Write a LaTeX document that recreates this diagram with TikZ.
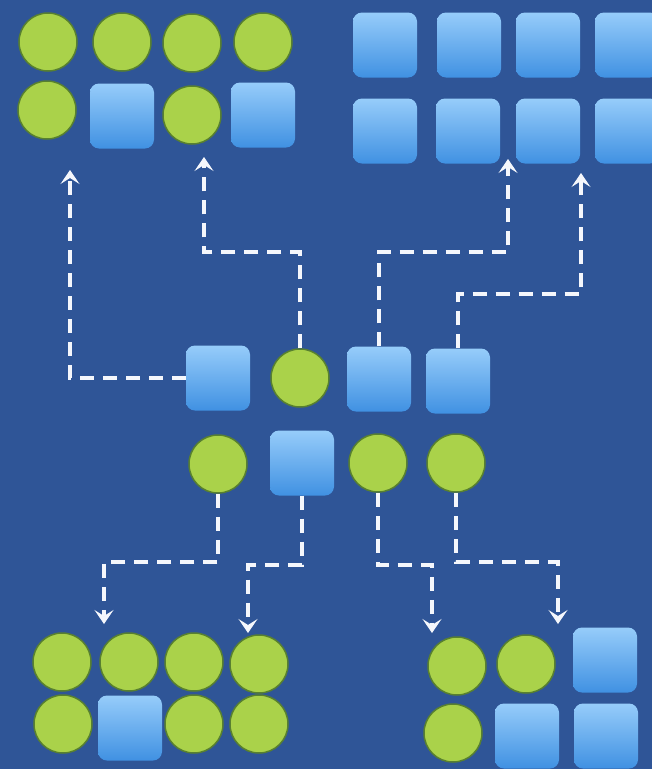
\documentclass[tikz,border=0pt]{standalone}
\usetikzlibrary{arrows.meta}
\definecolor{bgblue}{RGB}{47,85,151}
\definecolor{gfill}{RGB}{170,210,74}
\definecolor{gline}{RGB}{88,128,48}
\definecolor{sqtop}{RGB}{150,204,250}
\definecolor{sqbot}{RGB}{64,145,226}
\definecolor{lnwhite}{RGB}{245,247,252}
\tikzset{
  gc/.style={circle,fill=gfill,draw=gline,line width=1.5pt,minimum size=58pt,inner sep=0pt},
  bs/.style={rectangle,rounded corners=9pt,top color=sqtop,bottom color=sqbot,draw=none,minimum width=64pt,minimum height=65pt,inner sep=0pt},
  conn/.style={draw=lnwhite,line width=4pt,dash pattern=on 14pt off 9pt,-{Stealth[length=14pt,width=19pt,inset=6pt,line width=1pt]}},
}
\begin{document}
\begin{tikzpicture}[x=1pt,y=-1pt]
\useasboundingbox (0,0) rectangle (652,769);
\fill[bgblue] (0,0) rectangle (652,769);
\clip (0,0) rectangle (652,769);
% top-left group
\node[gc] (tl1) at (48,42) {};
\node[gc] (tl2) at (122,42) {};
\node[gc] (tl3) at (192,43) {};
\node[gc] (tl4) at (263,42) {};
\node[gc] (tl5) at (47,110) {};
\node[bs] (tl6) at (122,116) {};
\node[gc] (tl7) at (192,115) {};
\node[bs] (tl8) at (263,115) {};
% top-right group
\node[bs] (tr1) at (385,45) {};
\node[bs] (tr2) at (469,45) {};
\node[bs] (tr3) at (548,45) {};
\node[bs] (tr4) at (627,45) {};
\node[bs] (tr5) at (385,131) {};
\node[bs] (tr6) at (468,131) {};
\node[bs] (tr7) at (548,131) {};
\node[bs] (tr8) at (627,131) {};
% middle row 1
\node[bs] (m1) at (218,378) {};
\node[gc] (m2) at (300,378) {};
\node[bs] (m3) at (379,379) {};
\node[bs] (m4) at (458,381) {};
% middle row 2
\node[gc] (n1) at (218,464) {};
\node[bs] (n2) at (302,463) {};
\node[gc] (n3) at (378,463) {};
\node[gc] (n4) at (456,463) {};
% bottom-left group
\node[gc] (bl1) at (62,662) {};
\node[gc] (bl2) at (129,662) {};
\node[gc] (bl3) at (194,662) {};
\node[gc] (bl4) at (259,664) {};
\node[gc] (bl5) at (63,724) {};
\node[bs] (bl6) at (130,728) {};
\node[gc] (bl7) at (194,724) {};
\node[gc] (bl8) at (259,724) {};
% bottom-right group
\node[gc] (br1) at (457,666) {};
\node[gc] (br2) at (526,664) {};
\node[bs] (br3) at (605,660) {};
\node[gc] (br4) at (453,733) {};
\node[bs] (br5) at (527,736) {};
\node[bs] (br6) at (606,736) {};
% bend and tip coordinates
\coordinate (t1) at (70,170);
\coordinate (b2) at (204,252);
\coordinate (t2) at (204,157);
\coordinate (b3) at (508,252);
\coordinate (t3) at (508,159);
\coordinate (b4) at (581,294);
\coordinate (t4) at (581,173);
\coordinate (b5) at (104,562);
\coordinate (t5) at (104,624);
\coordinate (b6) at (248,565);
\coordinate (t6) at (248,633);
\coordinate (b7) at (432,565);
\coordinate (t7) at (432,633);
\coordinate (b8) at (558,562);
\coordinate (t8) at (558,624);
% connectors
\draw[conn] (m1.west) -| (t1);
\draw[conn] (m2.north) |- (b2) -- (t2);
\draw[conn] (m3.north) |- (b3) -- (t3);
\draw[conn] (m4.north) |- (b4) -- (t4);
\draw[conn] (n1.south) |- (b5) -- (t5);
\draw[conn] (n2.south) |- (b6) -- (t6);
\draw[conn] (n3.south) |- (b7) -- (t7);
\draw[conn] (n4.south) |- (b8) -- (t8);
\end{tikzpicture}
\end{document}
